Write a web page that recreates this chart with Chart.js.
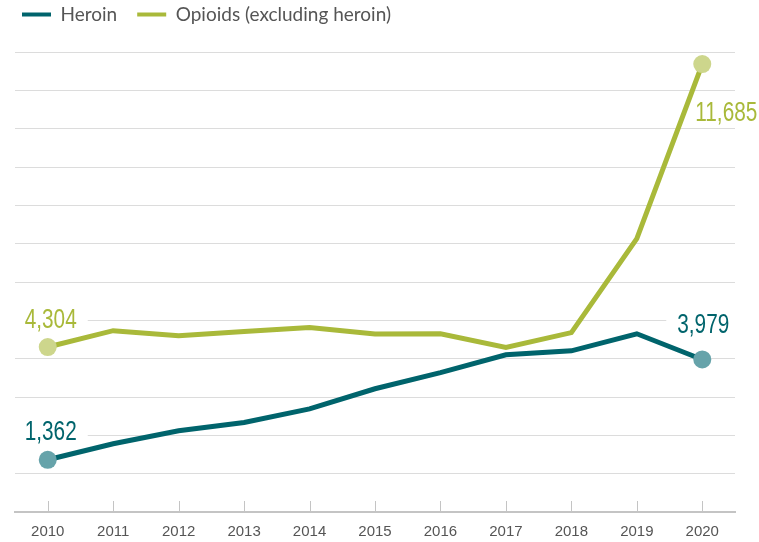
<!DOCTYPE html>
<html lang="en">
<head>
  <meta charset="UTF-8" />
  <title>Heroin and opioid deaths, 2010–2020</title>
  <script src="https://cdn.jsdelivr.net/npm/chart.js"></script>
  <style>
    html, body { margin: 0; padding: 0; background: #fff; }
    #wrap { width: 759px; height: 542px; }
  </style>
</head>
<body>
  <div id="wrap"><canvas id="myChart"></canvas></div>

  <script>
    // data
    const years = ['2010', '2011', '2012', '2013', '2014', '2015', '2016', '2017', '2018', '2019', '2020'];
    const heroin = [1362, 1780, 2120, 2335, 2690, 3215, 3635, 4100, 4205, 4650, 3979];
    const opioids = [4304, 4730, 4600, 4710, 4815, 4645, 4650, 4295, 4680, 7130, 11685];
    const seriesNames = ['Heroin', 'Opioids (excluding heroin)'];

    const numFont = '"Liberation Sans", Arial, sans-serif';

    // which points get a value label, and where the label sits
    const labelSpots = [
      { ds: 0, i: 0, dx: 3, dy: -20, align: 'center', base: 'bottom' },
      { ds: 0, i: 10, dx: 1, dy: -26, align: 'center', base: 'bottom' },
      { ds: 1, i: 0, dx: 3, dy: -19, align: 'center', base: 'bottom' },
      { ds: 1, i: 10, dx: -7, dy: 38, align: 'left', base: 'top' }
    ];

    // taller legend so the plot starts lower
    const legendGap = {
      id: 'legendGap',
      beforeInit(chart) {
        const fit = chart.legend.fit;
        chart.legend.fit = function () {
          fit.bind(chart.legend)();
          this.height += 18;
        };
      }
    };

    // value labels (narrowed) with a white box that hides the grid behind them
    const valueLabels = {
      id: 'valueLabels',
      beforeDatasetsDraw(chart) {
        const ctx = chart.ctx;
        const sx = 0.77;
        ctx.save();
        ctx.font = '27px ' + numFont;
        labelSpots.forEach(s => {
          const ds = chart.data.datasets[s.ds];
          const pt = chart.getDatasetMeta(s.ds).data[s.i];
          const txt = ds.data[s.i].toLocaleString('en-US');
          const w = ctx.measureText(txt).width * sx;
          const x = pt.x + s.dx;
          const y = pt.y + s.dy;
          const left = s.align === 'center' ? x - w / 2 : x;
          const top = s.base === 'bottom' ? y - 20 : y;
          ctx.fillStyle = '#fff';
          ctx.fillRect(left - 11, top - 4, w + 22, 28);
          ctx.fillStyle = ds.labelColor;
          ctx.textAlign = 'left';
          ctx.textBaseline = 'alphabetic';
          ctx.save();
          ctx.translate(left, s.base === 'bottom' ? y : y + 19);
          ctx.scale(sx, 1);
          ctx.fillText(txt, 0, 0);
          ctx.restore();
        });
        ctx.restore();
      }
    };

    // small upward tick marks on the x axis
    const xTicks = {
      id: 'xTicks',
      afterDraw(chart) {
        const ctx = chart.ctx;
        const xs = chart.scales.x;
        const bottom = chart.chartArea.bottom;
        ctx.save();
        ctx.strokeStyle = '#c4c4c4';
        ctx.lineWidth = 1;
        xs.ticks.forEach((t, i) => {
          const x = Math.round(xs.getPixelForTick(i)) + 0.5;
          ctx.beginPath();
          ctx.moveTo(x, bottom - 11);
          ctx.lineTo(x, bottom);
          ctx.stroke();
        });
        ctx.restore();
      }
    };

    const edgeOnly = (r) => (ctx) => (ctx.dataIndex === 0 || ctx.dataIndex === years.length - 1) ? r : 0;

    new Chart(document.getElementById('myChart'), {
      type: 'line',
      data: {
        labels: years,
        datasets: [
          {
            label: seriesNames[0],
            data: heroin,
            borderColor: '#00646c',
            backgroundColor: '#00646c',
            pointBackgroundColor: '#66a3aa',
            labelColor: '#00646c',
            borderWidth: 5,
            pointRadius: edgeOnly(9),
            pointBorderWidth: 0,
            pointHoverRadius: 0,
            tension: 0
          },
          {
            label: seriesNames[1],
            data: opioids,
            borderColor: '#a9b93a',
            backgroundColor: '#a9b93a',
            pointBackgroundColor: '#cdd68c',
            labelColor: '#a9b93a',
            borderWidth: 5,
            pointRadius: edgeOnly(9),
            pointBorderWidth: 0,
            pointHoverRadius: 0,
            tension: 0
          }
        ]
      },
      options: {
        responsive: true,
        maintainAspectRatio: false,
        animation: false,
        layout: { padding: { left: 2, right: 24, top: -15, bottom: -10 } },
        scales: {
          x: {
            offset: true,
            grid: { display: false, drawTicks: false },
            border: { display: true, color: '#c4c4c4', width: 2 },
            ticks: { color: '#555', font: { family: numFont, size: 15 }, padding: 11, maxRotation: 0 }
          },
          y: {
            min: 0,
            max: 12000,
            afterFit(scale) { scale.width = 13; },
            ticks: { stepSize: 1000, display: false },
            grid: { color: '#dcdcdc', lineWidth: 1, drawTicks: false },
            border: { display: false }
          }
        },
        plugins: {
          legend: {
            position: 'top',
            align: 'start',
            labels: {
              boxWidth: 29,
              boxHeight: 4,
              padding: 20,
              color: '#555',
              font: { family: 'Lato, "Open Sans", sans-serif', size: 19 },
              generateLabels(chart) {
                const items = Chart.defaults.plugins.legend.labels.generateLabels(chart);
                items.forEach(it => { it.lineWidth = 0; });
                return items;
              }
            }
          },
          tooltip: { enabled: false }
        }
      },
      plugins: [legendGap, valueLabels, xTicks]
    });
  </script>
</body>
</html>
